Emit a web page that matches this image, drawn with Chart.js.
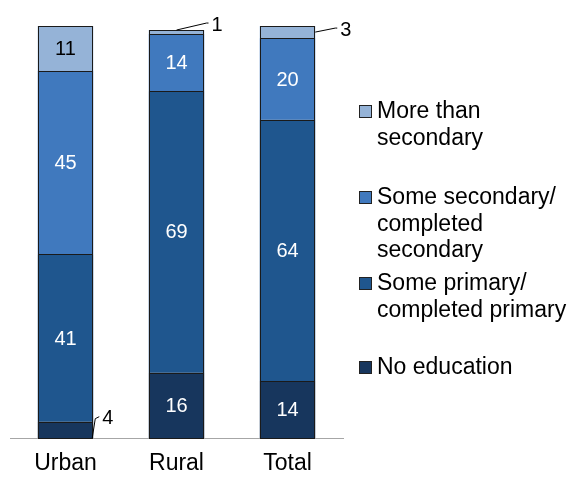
<!DOCTYPE html>
<html>
<head>
<meta charset="utf-8">
<script src="https://cdn.jsdelivr.net/npm/chart.js@4/dist/chart.umd.min.js"></script>
<style>
  html, body { margin: 0; padding: 0; background: #fff; }
  #wrap { width: 574px; height: 478px; }
</style>
</head>
<body>
<div id="wrap"><canvas id="edu-chart"></canvas></div>
<script>
// Education level by residence (percent)
var places = ["Urban", "Rural", "Total"];
var noEducation = [4, 16, 14];
var somePrimary = [41, 69, 64];
var someSecondary = [45, 14, 20];
var moreThanSecondary = [11, 1, 3];

var seriesNames = ["No education", "Some primary/completed primary", "Some secondary/completed secondary", "More than secondary"];
var legendLines = [
    ["No education"],
    ["Some primary/", "completed primary"],
    ["Some secondary/", "completed", "secondary"],
    ["More than", "secondary"]
];
var colors = ["#17365D", "#1F568E", "#4079BE", "#95B3D7"];
var FONT = "'Liberation Sans', Arial, sans-serif";

// crisp outlines + numbers inside the segments, small ones get a leader line
var segmentLabels = {
    id: 'segmentLabels',
    afterDatasetsDraw: function(chart) {
        var ctx = chart.ctx;
        ctx.save();
        // outlines
        ctx.strokeStyle = "#1a1a1a";
        ctx.lineWidth = 1;
        chart.data.datasets.forEach(function(ds, di) {
            chart.getDatasetMeta(di).data.forEach(function(bar) {
                var half = bar.width / 2;
                var l = Math.round(bar.x - half) + 0.5, r = Math.round(bar.x + half) - 0.5;
                var t = Math.round(Math.min(bar.y, bar.base)) + 0.5;
                var b = Math.round(Math.max(bar.y, bar.base)) + 0.5;
                ctx.strokeRect(l, t, r - l, b - t);
            });
        });

        ctx.font = "20px " + FONT;
        ctx.textBaseline = "middle";
        chart.data.datasets.forEach(function(ds, di) {
            var meta = chart.getDatasetMeta(di);
            meta.data.forEach(function(bar, i) {
                var v = ds.data[i];
                var top = Math.min(bar.y, bar.base), bot = Math.max(bar.y, bar.base);
                var half = bar.width / 2;
                if (v >= 5) {
                    ctx.textAlign = "center";
                    ctx.fillStyle = di === 3 ? "#000" : "#fff";
                    ctx.fillText(String(v), bar.x, (top + bot) / 2 + 1);
                    return;
                }
                // leader line for tiny segments
                var sx, sy, ex, ey, mx, my;
                if (di === 0) {
                    sx = bar.x + half - 1; sy = bot;
                    mx = bar.x + half + 2; my = top - 3;
                    ex = mx + 4; ey = my - 2;
                } else if (i === 1) {
                    sx = bar.x; sy = top;
                    mx = bar.x + 30; my = top - 7;
                    ex = mx + 2; ey = my;
                } else {
                    sx = bar.x + half; sy = (top + bot) / 2;
                    mx = bar.x + half + 20; my = sy - 4;
                    ex = mx + 2; ey = my;
                }
                ctx.strokeStyle = "#000";
                ctx.beginPath();
                ctx.moveTo(sx, sy);
                ctx.lineTo(mx, my);
                ctx.lineTo(ex, ey);
                ctx.stroke();
                ctx.fillStyle = "#000";
                ctx.textAlign = "left";
                ctx.fillText(String(v), ex + 3, ey + 2);
            });
        });
        ctx.restore();
    }
};

// legend at the right with wrapped labels
var sideLegend = {
    id: 'sideLegend',
    afterDraw: function(chart) {
        var ctx = chart.ctx;
        var rows = [368, 284, 198, 112];
        ctx.save();
        ctx.font = "23px " + FONT;
        ctx.textBaseline = "middle";
        ctx.textAlign = "left";
        for (var k = 0; k < legendLines.length; k++) {
            var y = rows[k];
            ctx.fillStyle = colors[k];
            ctx.fillRect(359.5, y - 6.5, 12, 12);
            ctx.strokeStyle = "#222";
            ctx.lineWidth = 1;
            ctx.strokeRect(359.5, y - 6.5, 12, 12);
            ctx.fillStyle = "#000";
            legendLines[k].forEach(function(line, j) {
                ctx.fillText(line, 377, y + j * 26.5);
            });
        }
        ctx.restore();
    }
};

var seriesValues = [noEducation, somePrimary, someSecondary, moreThanSecondary];

new Chart(document.getElementById("edu-chart"), {
    type: 'bar',
    data: {
        labels: places,
        datasets: seriesValues.map(function(vals, k) {
            return {
                label: seriesNames[k],
                data: vals,
                backgroundColor: colors[k],
                borderWidth: 0,
                inflateAmount: 0,
                clip: 6,
                barPercentage: 0.5,
                categoryPercentage: 1.0
            };
        })
    },
    options: {
        responsive: true,
        maintainAspectRatio: false,
        animation: false,
        layout: { padding: { left: 10, right: 231, top: 28, bottom: 1 } },
        plugins: {
            legend: { display: false },
            tooltip: { enabled: false }
        },
        scales: {
            x: {
                stacked: true,
                grid: { display: false, drawTicks: false },
                border: { display: true, color: "#a6a6a6", width: 1 },
                ticks: { color: "#000", padding: 12, font: { family: FONT, size: 23 } },
                afterFit: function(axis) { axis.height = 39; }
            },
            y: {
                stacked: true,
                display: false,
                min: 0,
                max: 100.5
            }
        }
    },
    plugins: [segmentLabels, sideLegend]
});
</script>
</body>
</html>
